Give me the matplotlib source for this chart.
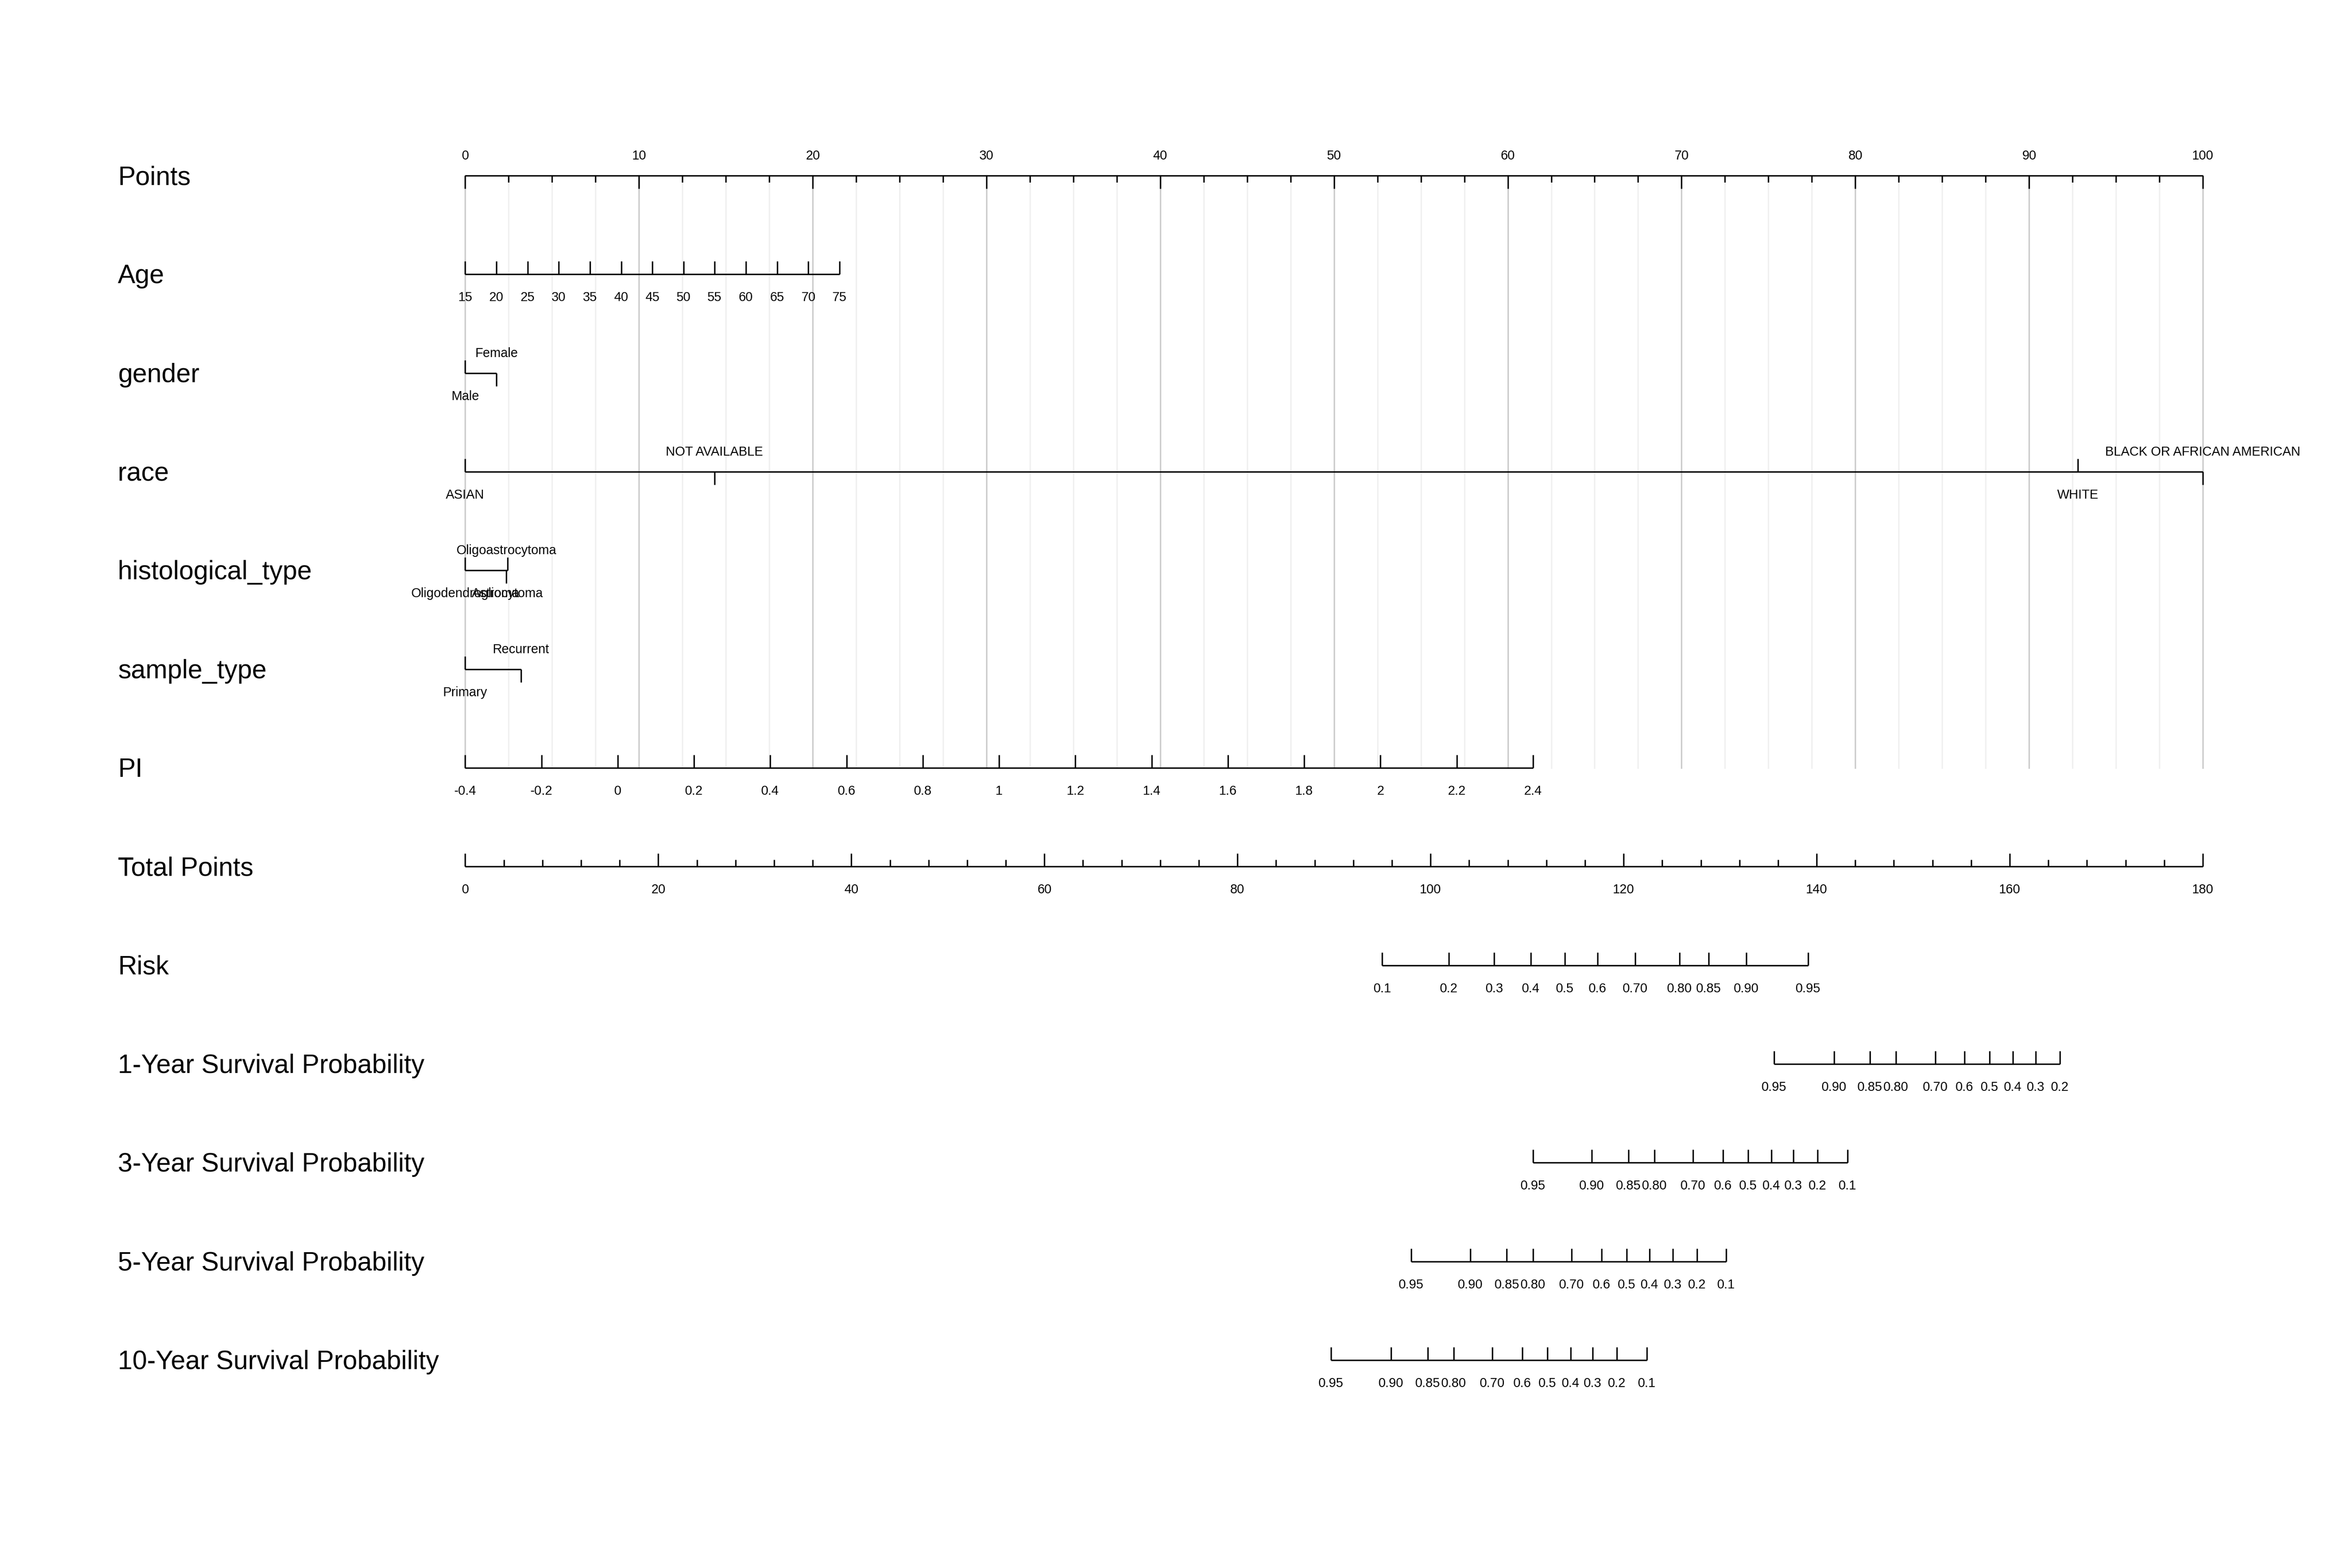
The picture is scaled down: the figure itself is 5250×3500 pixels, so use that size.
import numpy as np
import matplotlib.pyplot as plt
from matplotlib import transforms

plt.rcParams['font.family'] = ['Liberation Sans', 'DejaVu Sans']

# ---- data ----
row_names = ["Points", "Age", "gender", "race", "histological_type", "sample_type",
             "PI", "Total Points", "Risk", "1-Year Survival Probability",
             "3-Year Survival Probability", "5-Year Survival Probability",
             "10-Year Survival Probability"]

points_minor = np.arange(0, 100.1, 2.5)
points_major = np.arange(0, 101, 10)

age_ticks = [15, 20, 25, 30, 35, 40, 45, 50, 55, 60, 65, 70, 75]
age_max_points = 21.54          # points at age 75 (age 15 -> 0)

gender_levels = ["Male", "Female"]
gender_points = [0.0, 1.8]

race_levels = ["ASIAN", "NOT AVAILABLE", "WHITE", "BLACK OR AFRICAN AMERICAN"]
race_points = [0.0, 14.34, 92.8, 100.0]

hist_levels = ["Oligodendroglioma", "Oligoastrocytoma", "Astrocytoma"]
hist_points = [0.0, 2.36, 2.43]

sample_levels = ["Primary", "Recurrent"]
sample_points = [0.0, 3.2]

pi_ticks = [-0.4, -0.2, 0, 0.2, 0.4, 0.6, 0.8, 1, 1.2, 1.4, 1.6, 1.8, 2, 2.2, 2.4]
pi_labels = ["-0.4", "-0.2", "0", "0.2", "0.4", "0.6", "0.8", "1", "1.2", "1.4",
             "1.6", "1.8", "2", "2.2", "2.4"]
pi_max_points = 61.45           # points at PI = 2.4 (PI -0.4 -> 0)

total_max = 180
total_major = np.arange(0, 181, 20)
total_minor = np.arange(0, 181, 4)

risk_labels = ["0.1", "0.2", "0.3", "0.4", "0.5", "0.6", "0.70", "0.80", "0.85", "0.90", "0.95"]
risk_total = [95.0, 101.9, 106.6, 110.4, 113.9, 117.3, 121.2, 125.8, 128.8, 132.7, 139.1]

surv_labels = ["0.95", "0.90", "0.85", "0.80", "0.70", "0.6", "0.5", "0.4", "0.3", "0.2", "0.1"]
surv1_total = [135.6, 141.8, 145.5, 148.2, 152.3, 155.3, 157.9, 160.3, 162.7, 165.2]
surv3_total = [110.6, 116.7, 120.5, 123.2, 127.2, 130.3, 132.9, 135.3, 137.6, 140.1, 143.2]
surv5_total = [98.0, 104.1, 107.9, 110.6, 114.6, 117.7, 120.3, 122.7, 125.1, 127.6, 130.6]
surv10_total = [89.7, 95.9, 99.7, 102.4, 106.4, 109.5, 112.1, 114.5, 116.8, 119.3, 122.4]

# ---- layout ----
W, H = 5250, 3500
fig = plt.figure(figsize=(W / 300, H / 300), dpi=300)
row_px = 220.33
ax = fig.add_axes([1038.4 / W, 1 - (3036 + row_px / 2) / H,
                   3878.6 / W, (3036 - 392 + row_px) / H])
ax.set_xlim(0, 100)
ax.set_ylim(12.5, -0.5)
ax.axis("off")

LW = 0.78
TICK = 29 / row_px
MINOR = 15 / row_px
ABOVE = 36 / row_px     # baseline offset for labels above the line
BELOW = 60 / row_px     # baseline offset for labels below the line
FS_TICK = 6.9
FS_NAME = 14.05

line_kw = dict(color="black", lw=LW, clip_on=False, solid_capstyle="butt")


def tp2pts(v):
    return np.asarray(v, dtype=float) * 100.0 / total_max


def draw_axis(row, xs, labels, up=True, label_below=True, lengths=None):
    xs = np.asarray(xs, dtype=float)
    ax.plot([xs.min(), xs.max()], [row, row], **line_kw)
    if lengths is None:
        lengths = [TICK] * len(xs)
    sgn = -1 if up else 1
    for x, ln in zip(xs, lengths):
        ax.plot([x, x], [row, row + sgn * ln], **line_kw)
    for x, lab in zip(xs, labels):
        if lab is None:
            continue
        y = row + BELOW if label_below else row - ABOVE
        ax.text(x, y, lab, ha="center", va="baseline", fontsize=FS_TICK)


def draw_categorical(row, levels, pts):
    pts = np.asarray(pts, dtype=float)
    ax.plot([pts.min(), pts.max()], [row, row], **line_kw)
    order = np.argsort(pts, kind="stable")
    for k, i in enumerate(order):
        below = (k % 2 == 0)
        sgn = -1 if below else 1
        ax.plot([pts[i], pts[i]], [row, row + sgn * TICK], **line_kw)
        y = row + BELOW if below else row - ABOVE
        ax.text(pts[i], y, levels[i], ha="center", va="baseline", fontsize=FS_TICK)


# grid lines from Points axis down to PI axis
for p in points_minor:
    major = np.isclose(p % 10, 0)
    ax.plot([p, p], [0, 6], color="#cccccc" if major else "#f0f0f0", lw=LW,
            zorder=0, clip_on=False)

# Points
pt_lens = [TICK if np.isclose(p % 10, 0) else MINOR for p in points_minor]
pt_labs = [str(int(p)) if np.isclose(p % 10, 0) else None for p in points_minor]
draw_axis(0, points_minor, pt_labs, up=False, label_below=False, lengths=pt_lens)

# Age
age_pts = [(a - age_ticks[0]) / (age_ticks[-1] - age_ticks[0]) * age_max_points for a in age_ticks]
draw_axis(1, age_pts, [str(a) for a in age_ticks])

draw_categorical(2, gender_levels, gender_points)
draw_categorical(3, race_levels, race_points)
draw_categorical(4, hist_levels, hist_points)
draw_categorical(5, sample_levels, sample_points)

# PI
pi_pts = [(v - pi_ticks[0]) / (pi_ticks[-1] - pi_ticks[0]) * pi_max_points for v in pi_ticks]
draw_axis(6, pi_pts, pi_labels)

# Total Points
tot_lens = [TICK if t % 20 == 0 else MINOR for t in total_minor]
tot_labs = [str(int(t)) if t % 20 == 0 else None for t in total_minor]
draw_axis(7, tp2pts(total_minor), tot_labs, lengths=tot_lens)

draw_axis(8, tp2pts(risk_total), risk_labels)
draw_axis(9, tp2pts(surv1_total), surv_labels[:len(surv1_total)])
draw_axis(10, tp2pts(surv3_total), surv_labels)
draw_axis(11, tp2pts(surv5_total), surv_labels)
draw_axis(12, tp2pts(surv10_total), surv_labels)

# row names on the left
trans = transforms.blended_transform_factory(fig.transFigure, ax.transData)
for i, name in enumerate(row_names):
    ax.text(263 / W, i + 20 / row_px, name, transform=trans, ha="left",
            va="baseline", fontsize=FS_NAME, clip_on=False)

fig.savefig("out.png", dpi=300, facecolor="white")
